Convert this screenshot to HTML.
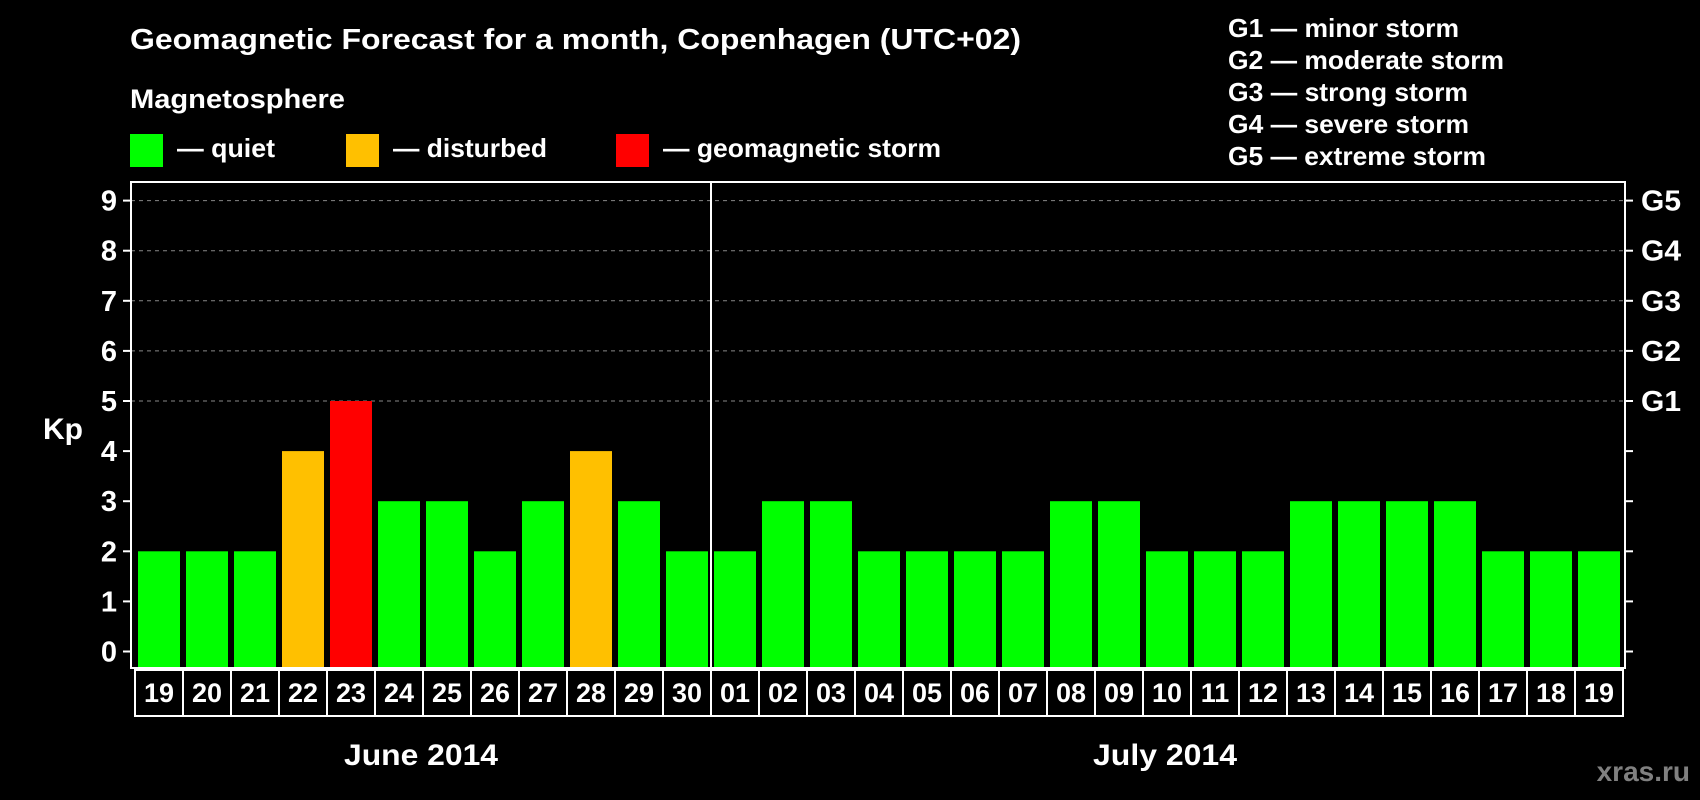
<!DOCTYPE html>
<html><head><meta charset="utf-8"><style>
html,body{margin:0;padding:0;background:#000;width:1700px;height:800px;overflow:hidden}
svg{display:block;font-family:"Liberation Sans",Arial,sans-serif;font-weight:bold}
</style></head><body>
<svg id="chart" width="1700" height="800" viewBox="0 0 1700 800">
<text x="130" y="49" fill="#fff" font-size="29" textLength="891" lengthAdjust="spacingAndGlyphs">Geomagnetic Forecast for a month, Copenhagen (UTC+02)</text>
<text x="130" y="108" fill="#fff" font-size="27" textLength="215" lengthAdjust="spacingAndGlyphs">Magnetosphere</text>
<g><rect x="130" y="134" width="33" height="33" fill="#00ff00"/><text x="177" y="157" fill="#fff" font-size="26" textLength="98" lengthAdjust="spacingAndGlyphs">— quiet</text></g>
<g><rect x="346" y="134" width="33" height="33" fill="#ffc000"/><text x="393" y="157" fill="#fff" font-size="26" textLength="154" lengthAdjust="spacingAndGlyphs">— disturbed</text></g>
<g><rect x="616" y="134" width="33" height="33" fill="#ff0000"/><text x="663" y="157" fill="#fff" font-size="26" textLength="278" lengthAdjust="spacingAndGlyphs">— geomagnetic storm</text></g>
<g fill="#fff" font-size="26">
<text x="1228" y="37" textLength="231" lengthAdjust="spacingAndGlyphs">G1 — minor storm</text>
<text x="1228" y="69" textLength="276" lengthAdjust="spacingAndGlyphs">G2 — moderate storm</text>
<text x="1228" y="101" textLength="240" lengthAdjust="spacingAndGlyphs">G3 — strong storm</text>
<text x="1228" y="133" textLength="241" lengthAdjust="spacingAndGlyphs">G4 — severe storm</text>
<text x="1228" y="165" textLength="258" lengthAdjust="spacingAndGlyphs">G5 — extreme storm</text>
</g>
<text x="43" y="439" fill="#fff" font-size="30" textLength="40" lengthAdjust="spacingAndGlyphs">Kp</text>
<g id="grid"></g><g id="bars"></g><g id="axes"></g>
<text x="421" y="765" fill="#fff" font-size="30" text-anchor="middle" textLength="154" lengthAdjust="spacingAndGlyphs">June 2014</text>
<text x="1165" y="765" fill="#fff" font-size="30" text-anchor="middle" textLength="144" lengthAdjust="spacingAndGlyphs">July 2014</text>
<text x="1690" y="781" fill="#808080" font-size="28" text-anchor="end">xras.ru</text>
</svg>
<script>
const days = ["19","20","21","22","23","24","25","26","27","28","29","30","01","02","03","04","05","06","07","08","09","10","11","12","13","14","15","16","17","18","19"];
const kp = [2,2,2,4,5,3,3,2,3,4,3,2,2,3,3,2,2,2,2,3,3,2,2,2,3,3,3,3,2,2,2];
const yTicks = [0,1,2,3,4,5,6,7,8,9];
const gLabels = ["G1","G2","G3","G4","G5"];
const NS="http://www.w3.org/2000/svg";
const L=131,R=1625,T=182,B=668,X0=135,P=48;
const y=v=>651.5-v*50.1;
const x=i=>X0+i*P;
function mk(t,a,parent){const e=document.createElementNS(NS,t);for(const k in a)e.setAttribute(k,a[k]);parent.appendChild(e);return e;}
const grid=document.getElementById('grid'),bars=document.getElementById('bars'),axes=document.getElementById('axes');
yTicks.forEach(v=>{
  if(v>=5){const g=mk('line',{x1:L,x2:R,y1:y(v),y2:y(v),stroke:'#888','stroke-dasharray':'4,4','stroke-width':1},grid);
  
  }
  const t=mk('line',{x1:L-8,x2:L,y1:y(v),y2:y(v),stroke:'#fff','stroke-width':2},axes);
  
  
  const t2=mk('line',{x1:R,x2:R+8,y1:y(v),y2:y(v),stroke:'#fff','stroke-width':2},axes);
  
  
  const lb=mk('text',{x:L-14,y:y(v)+10,fill:'#fff','font-size':29,'text-anchor':'end'},axes);lb.textContent=v;
  
  
  if(v>=5){const gl=mk('text',{x:R+16,y:y(v)+10,fill:'#fff','font-size':29,textLength:40,lengthAdjust:'spacingAndGlyphs'},axes);gl.textContent=gLabels[v-5];
  
  }
});
kp.forEach((v,i)=>{
  const c=v>=5?'#ff0000':(v>=4?'#ffc000':'#00ff00');
  const b=mk('rect',{x:x(i)+3,y:y(v),width:42,height:B-y(v),fill:c},bars);
  
  
  const cell=mk('rect',{x:x(i),y:B+2,width:P,height:46,fill:'none',stroke:'#fff','stroke-width':2},axes);
  
  
  const dt=mk('text',{x:x(i)+P/2,y:B+34,fill:'#fff','font-size':27,'text-anchor':'middle'},axes);dt.textContent=days[i];
  
  
});
const fr=mk('rect',{x:L,y:T,width:R-L,height:B-T,fill:'none',stroke:'#fff','stroke-width':2},axes);


const dv=mk('line',{x1:x(12),x2:x(12),y1:T,y2:B,stroke:'#fff','stroke-width':2},axes);


</script>
</body></html>
